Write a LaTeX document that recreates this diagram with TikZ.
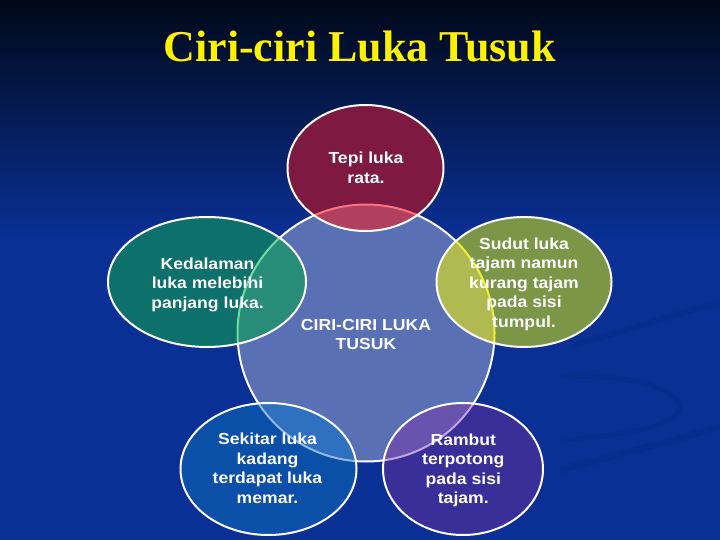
\documentclass[tikz,border=0pt]{standalone}
\usepackage{fontspec}
\usepackage{xcolor}
\setmainfont{Liberation Serif}
\newfontfamily\petalfont{Liberation Sans}[FakeStretch=1.1]
\usepackage{tikz}

\definecolor{bgtop}{HTML}{000818}
\definecolor{bgmid}{HTML}{061E6A}
\definecolor{bgblue}{HTML}{0A3096}
\definecolor{swoosh}{HTML}{06247E}
\definecolor{corefill}{HTML}{5A70B4}
\definecolor{tepifill}{HTML}{7E1A42}
\definecolor{tepiover}{HTML}{B0405E}
\definecolor{tepitint}{HTML}{FF7080}
\definecolor{dalamfill}{HTML}{0E706A}
\definecolor{dalamover}{HTML}{288C78}
\definecolor{dalamtint}{HTML}{6EDCA0}
\definecolor{sudutfill}{HTML}{7A9646}
\definecolor{sudutover}{HTML}{B0BA50}
\definecolor{suduttint}{HTML}{F0F03C}
\definecolor{sekitarfill}{HTML}{0A50A8}
\definecolor{sekitarover}{HTML}{3070C0}
\definecolor{sekitartint}{HTML}{90B8E8}
\definecolor{rambutfill}{HTML}{3A2E98}
\definecolor{rambutover}{HTML}{6A52B0}
\definecolor{rambuttint}{HTML}{C0A8E0}

\begin{document}
\begin{tikzpicture}[x=1pt,y=-1pt,
			petal text/.style={text=white,align=center,
				font=\petalfont\bfseries\fontsize{16}{19.5}\selectfont},
			rim/.style={draw=white,line width=2pt}]
			\useasboundingbox (0,0) rectangle (720,540);
			% background
			\fill[bgblue] (0,0) rectangle (720,540);
			\shade[top color=bgtop,middle color=bgmid,bottom color=bgblue] (0,0) rectangle (720,240);
			\draw[swoosh,line width=6pt,opacity=.3] (573,345) .. controls (630,330) and (680,312) .. (720,303);
			\draw[swoosh,line width=5pt,opacity=.3] (560,377) .. controls (640,372) and (690,395) .. (677,413)
			.. controls (665,430) and (600,438) .. (560,440);
			\draw[swoosh,line width=7pt,opacity=.3] (560,470) .. controls (620,455) and (680,438) .. (720,427);
			% core circle
			\filldraw[fill=corefill,rim] (366,333) circle (128.5pt);
			% petals and their overlaps with the core
			\foreach \cx/\cy/\rx/\ry/\petal in {365.5/168/78/63/tepi,207/282/99/65/dalam,
				524/282/87.5/65/sudut,268.5/469/88/66/sekitar,463/469/80/66/rambut}{
				\fill[\petal fill] (\cx,\cy) ellipse ({\rx pt} and {\ry pt});
				\begin{scope}
					\clip (\cx,\cy) ellipse ({\rx pt} and {\ry pt});
					\fill[\petal over] (366,333) circle (128.5pt);
					\draw[\petal tint,line width=2pt] (366,333) circle (128.5pt);
				\end{scope}
				\draw[rim] (\cx,\cy) ellipse ({\rx pt} and {\ry pt});
			}
			\node[petal text] (tepi) at (366,167.9) {Tepi luka\\rata.};
			\node[petal text] (kedalaman) at (207.5,284.8) {Kedalaman\\luka melebihi\\panjang luka.};
			\node[petal text] (sudut) at (524,284.1) {Sudut luka\\tajam namun\\kurang tajam\\pada sisi\\tumpul.};
			\node[petal text] (sekitar) at (267.5,468.5) {Sekitar luka\\kadang\\terdapat luka\\memar.};
			\node[petal text] (rambut) at (463.3,470.2) {Rambut\\terpotong\\pada sisi\\tajam.};
			\node[petal text] (inti) at (366,334.5) {CIRI-CIRI LUKA\\TUSUK};
			\node[text=yellow,anchor=base,font=\bfseries\fontsize{44}{50}\selectfont] (judul) at (359.5,61.5) {Ciri-ciri Luka Tusuk};
		\end{tikzpicture}
\end{document}
